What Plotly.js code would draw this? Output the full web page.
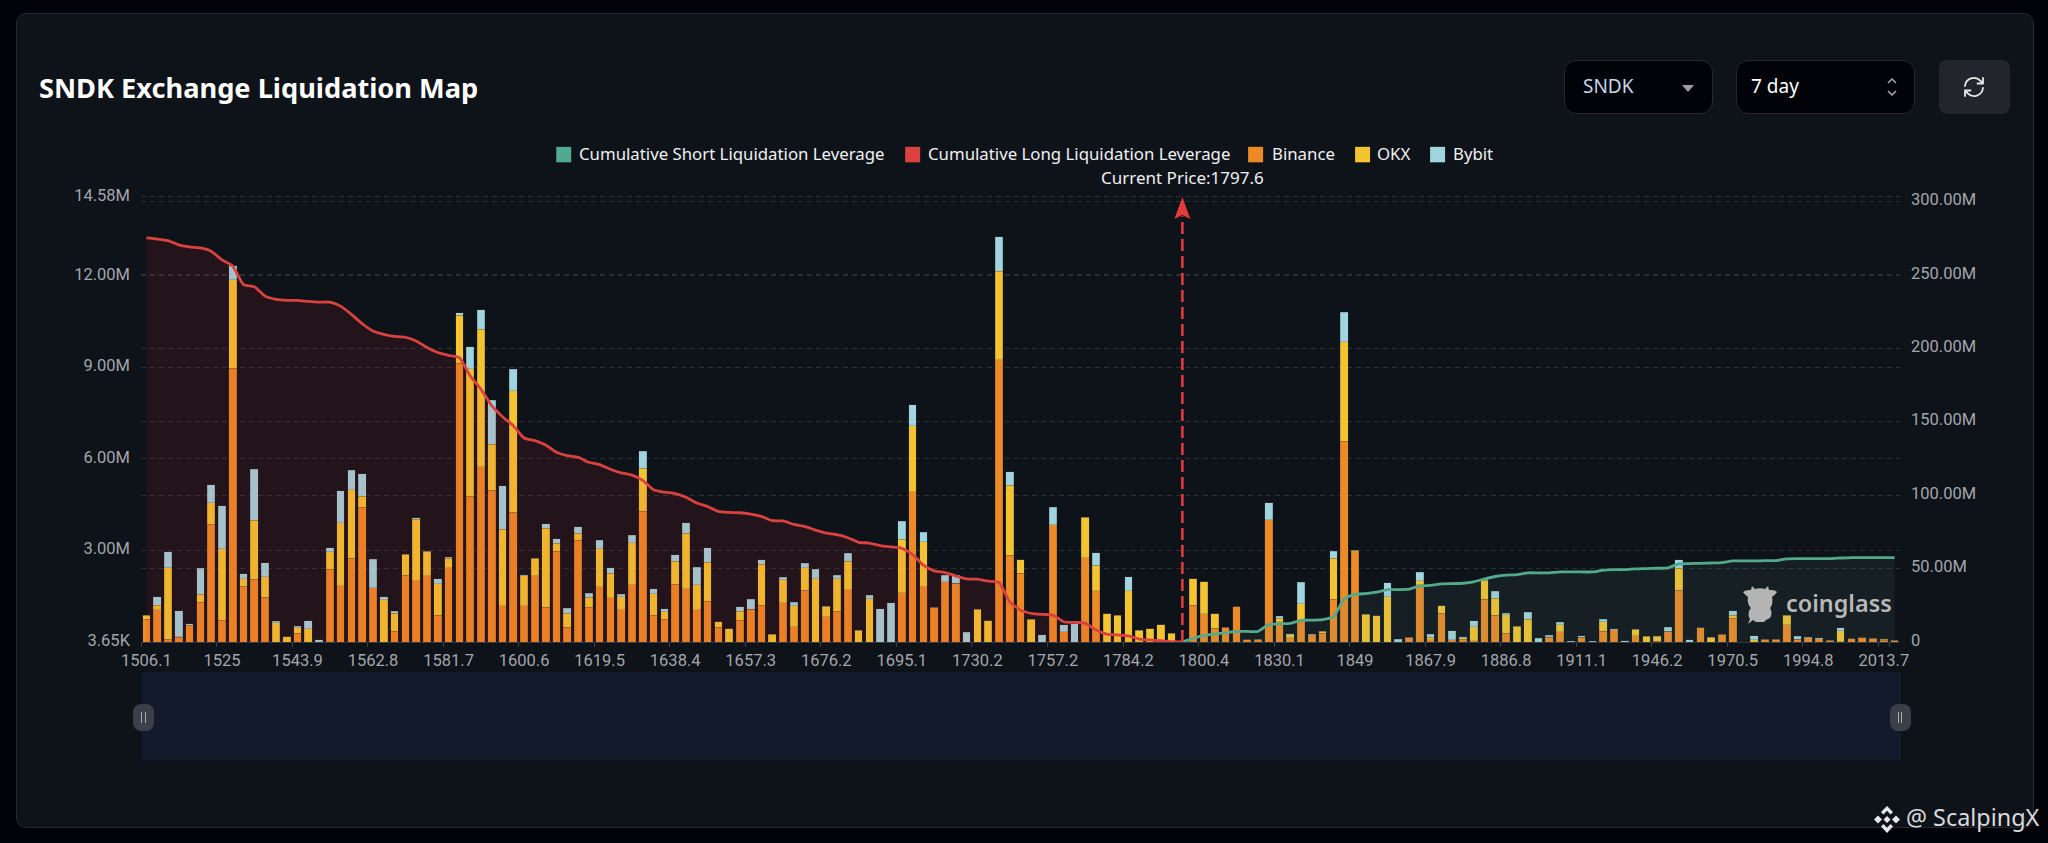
<!DOCTYPE html>
<html>
<head>
<meta charset="utf-8">
<script src="https://cdn.plot.ly/plotly-3.0.1.min.js"></script>
<style>
html,body{margin:0;padding:0;width:2048px;height:843px;background:#020308;overflow:hidden;font-family:"Noto Sans",sans-serif}
.abs{position:absolute;box-sizing:border-box}
#card{left:16px;top:13px;width:2018px;height:815px;background:#0e1219;border:1px solid #26292f;border-radius:10px}
#slider{left:142px;top:672px;width:1759px;height:88px;background:#121a2b}
.handle{width:21px;height:27px;top:704px;background:#3b4048;border-radius:8px}
.handle i{position:absolute;top:8px;width:1.4px;height:11px;background:#a9adb3}
#chart{left:0;top:0;width:2048px;height:843px}
.ctl{top:60px;height:54px;background:#020308;border:1px solid #25282e;border-radius:12px;color:#fff;font-size:19px;line-height:50px}
#wm{left:1873px;top:803px;color:#d8dadd;font-size:23.4px;line-height:28px;white-space:nowrap}
</style>
</head>
<body>
<div id="card" class="abs"></div>
<div id="slider" class="abs"></div>
<div id="chart" class="abs"></div>
<div class="abs handle" style="left:133px"><i style="left:8px"></i><i style="left:11.5px"></i></div>
<div class="abs handle" style="left:1889.5px"><i style="left:8px"></i><i style="left:11.5px"></i></div>

<div class="abs ctl" style="left:1564px;width:149px;padding-left:18px;color:#c6d6e8">SNDK
  <svg class="abs" style="left:117px;top:24px" width="12" height="7"><path d="M0 0H12L6 7Z" fill="#9a9da2"/></svg></div>
<div class="abs ctl" style="left:1736px;width:179px;padding-left:14px">7 day
  <svg class="abs" style="left:149px;top:15px" width="12" height="22" fill="none" stroke="#a8abb0" stroke-width="1.5"><path d="M2 7L6 3L10 7M2 15L6 19L10 15"/></svg></div>
<div class="abs" style="left:1939px;top:60px;width:71px;height:54px;background:#22262c;border-radius:8px">
  <svg class="abs" style="left:23px;top:15px" width="24" height="24" viewBox="0 0 24 24" fill="none" stroke="#e6e8ea" stroke-width="1.8" stroke-linecap="round" stroke-linejoin="round">
    <path d="M3 11a9 9 0 0 1 15.5-5.2L21 8.5M21 3v5.5h-5.5"/><path d="M21 13a9 9 0 0 1-15.5 5.2L3 15.5M3 21v-5.5h5.5"/></svg></div>

<svg class="abs" style="left:1742px;top:584px" width="36" height="40" viewBox="0 0 36 40">
  <path fill="#b4b4b4" d="M1 8 C4 6 7 6 9 6 L10 2 L13 5 C16 4 20 4 23 5 L26 2 L27 6 C30 6 33 6 35 8 C33 11 31 12 30 13 C31 18 30 22 28 24 C30 27 30 31 28 34 L24 36 L22 38 L14 38 L11 36 L6 40 L8 35 C6 32 6 27 9 24 C7 22 5 18 6 13 C5 12 3 11 1 8Z"/></svg>

<div id="wm" class="abs">
  <svg style="vertical-align:-7px" width="28" height="27" viewBox="0 0 28 27" fill="#e8e8e8">
    <path d="M14 0L20 6L17.6 8.4L14 4.8L10.4 8.4L8 6Z M5 9.5L9 13.5L5 17.5L1 13.5Z M23 9.5L27 13.5L23 17.5L19 13.5Z M14 10L17.5 13.5L14 17L10.5 13.5Z M8 20.5L10.4 18.1L14 21.7L17.6 18.1L20 20.5L14 27Z"/></svg><span style="margin-left:5px">@ ScalpingX</span></div>

<script>
// price level of every bar on the category axis
const categories = [
1506.1,1508.8,1511.5,1514.2,1516.9,1519.6,1522.3,1525,1527.7,1530.4,
1533.1,1535.8,1538.5,1541.2,1543.9,1546.6,1549.3,1552,1554.7,1557.4,
1560.1,1562.8,1565.5,1568.2,1570.9,1573.6,1576.3,1579,1581.7,1584.4,
1587.1,1589.8,1592.5,1595.2,1597.9,1600.6,1603.3,1606,1608.7,1611.4,
1614.1,1616.8,1619.5,1622.2,1624.9,1627.6,1630.3,1633,1635.7,1638.4,
1641.1,1643.8,1646.5,1649.2,1651.9,1654.6,1657.3,1660,1662.7,1665.4,
1668.1,1670.8,1673.5,1676.2,1678.9,1681.6,1684.3,1687,1689.7,1692.4,
1695.1,1697.8,1700.5,1703.2,1708.6,1714,1722.1,1730.2,1732.9,1735.6,
1738.3,1743.7,1746.4,1751.8,1757.2,1759.9,1762.6,1768,1773.4,1776.1,
1781.5,1784.2,1786.9,1789.6,1792.3,1795,1797.6,1797.7,1800.4,1803.1,
1808.5,1811.2,1816.6,1819.3,1824.7,1830.1,1832.8,1835.5,1838.2,1840.9,
1843.6,1846.3,1849,1851.7,1854.4,1857.1,1859.8,1862.5,1865.2,1867.9,
1870.6,1873.3,1876,1878.7,1881.4,1884.1,1886.8,1889.5,1892.2,1897.6,
1900.3,1903,1908.4,1911.1,1913.8,1919.2,1924.6,1930,1935.4,1940.8,
1946.2,1948.9,1951.6,1957,1959.7,1962.4,1967.8,1970.5,1973.2,1978.6,
1981.3,1984,1989.4,1992.1,1994.8,1997.5,2000.2,2002.9,2005.6,2008.3,
2011,2013.7,2016.4];

// liquidation leverage per price level, in millions
const binance = [
.74,1.05,.09,.15,.53,1.31,3.86,.72,8.97,1.83,
2.05,1.46,0,0,.28,0,0,2.38,1.84,2.75,
4.42,1.77,0,.36,2.18,2.0,2.17,.88,2.43,9.14,
4.78,5.74,4.98,1.18,4.25,1.18,2.17,1.14,2.97,.48,
3.34,1.14,1.81,1.45,1.06,1.87,4.29,.88,.75,1.89,
1.74,1.05,1.33,.49,0,.72,1.07,1.20,0,1.28,
.50,1.69,0,.82,1.0,1.72,0,0,0,0,
1.62,4.92,1.81,1.14,1.98,1.92,0,0,0,9.24,
2.84,2.26,0,0,3.84,.34,0,2.76,1.68,0,
0,0,0,0,0,0,0,1.20,.92,.45,
.48,1.16,.07,.09,4.0,.67,.14,.67,.23,.28,
1.40,6.57,2.96,0,0,0,0,.15,1.87,.07,
.94,.07,.09,.04,1.40,.88,.28,0,0,0,
.16,.34,0,.15,0,.36,.40,0,.20,0,
.02,.36,1.69,0,.46,0,.25,.78,0,0,
.09,.09,.56,.09,.14,.10,.05,.01,.11,.14,
.13,.05,.05];
const okx = [
.13,.16,2.35,.03,.02,.26,.71,2.34,2.90,.24,
1.94,.68,.63,.17,.19,.43,0,.58,2.07,2.24,
.35,0,1.38,.58,.69,2.02,.81,1.03,.32,1.57,
4.17,4.50,1.50,2.52,3.98,.99,.58,2.58,.26,.46,
.22,.33,1.25,.80,.43,1.38,1.40,.70,.24,.75,
1.83,.82,1.29,.17,.43,.28,0,1.34,.26,.76,
.69,.74,2.07,.35,1.07,.93,.39,1.42,0,0,
1.74,2.16,1.47,0,0,0,0,1.07,.69,2.90,
2.29,.44,.75,0,0,0,0,1.33,.84,.92,
.87,1.68,.38,.44,.56,.28,0,.87,1.06,.48,
0,0,0,0,0,.11,.10,.59,0,.08,
1.34,3.26,.05,.91,.86,1.48,0,0,.14,.09,
.24,0,.05,.46,.63,.55,.62,.52,.74,0,
.02,.23,0,0,0,.31,0,0,.21,.19,
.17,0,.72,0,0,.15,0,.10,0,.07,
0,0,.31,0,0,0,0,.36,0,0,
0,.04,0];
const bybit = [
.01,.28,.52,.85,.04,.84,.59,1.40,.45,.17,
1.67,.45,.05,0,.04,.27,.08,.12,1.04,.63,
.75,.94,.11,.07,0,.05,0,.16,.03,.08,
.72,.65,1.44,1.42,.70,.04,0,.15,.15,.17,
.22,.13,.27,.19,.07,.24,.56,.16,.10,.22,
.33,.58,.47,0,0,.16,.33,.16,0,.08,
.11,.15,.31,0,.11,.25,0,.11,1.09,1.28,
.60,.70,.31,0,.21,.27,.32,0,0,1.14,
.44,0,0,.23,.57,.23,.59,0,.41,0,
0,.45,0,0,0,0,0,0,0,0,
0,0,0,0,.57,.06,.03,.69,.02,0,
.24,.97,0,0,0,.46,.09,0,.28,.10,
0,.30,.04,.20,.02,.23,.05,0,.23,.12,
.04,.08,.02,.05,.02,.07,.04,.04,0,0,
.02,.12,.28,.07,0,0,0,.15,0,.13,
0,0,0,.10,.02,.04,0,.09,0,0,
0,.02,0];

// cumulative leverage, in millions: long runs from the first level to the current price
const cumulativeLong = [
275.1,274.4,273.3,270.4,269,268.3,266.1,260.2,255.9,243.4,
241.9,235.5,233.3,232.6,232.6,231.9,231.4,231.4,228.7,223.1,
216.7,211.8,209.5,208.1,207.5,205,200.5,197.1,195.2,193.7,
181.2,172.2,160.9,153.4,147.3,138.9,137.1,134.2,129.2,126.9,
125.8,122.4,120.8,117.6,115.2,113.6,110,103.6,102,101.1,
98.6,94.6,92.3,88.9,88.2,88,87.1,85.5,82.6,82.4,
80.1,78.7,76.2,74.2,73.1,71,67.9,67.4,65.6,64.7,
63.8,59.7,52.3,48.4,47.3,45,43,42.8,41.4,40.5,
27.4,21.7,19.5,18.8,18.3,13.8,13.3,12.9,8.1,5.4,
4.8,4.1,2,1.4,.9,.2,0];
// short runs from the current price to the last level
const cumulativeShort = [
0,2.5,4.5,5.4,6.3,7.2,7.2,7.2,11.8,12.4,
12.7,14.7,14.9,15.2,17.2,29.4,32.4,33,33.9,35.7,
35.7,36,38.2,38.5,39.6,39.8,40,41,43,44.6,
45.5,45.9,47.1,47.1,47.1,47.7,47.7,47.7,47.7,48.9,
49.3,49.3,49.8,50,50.2,50.5,53.2,53.4,53.6,53.8,
54.1,55.2,55.2,55.2,55.4,55.4,56.6,56.8,56.8,56.8,
56.8,57.2,57.5,57.5,57.5,57.5,57.5];

const xTickLabels = [1506.1,1525,1543.9,1562.8,1581.7,1600.6,1619.5,1638.4,1657.3,1676.2,1695.1,1730.2,
  1757.2,1784.2,1800.4,1830.1,1849,1867.9,1886.8,1911.1,1946.2,1970.5,1994.8,2013.7];
const leftTickValues = [.00365,3,6,9,12,14.58];
const leftTickLabels = ['3.65K','3.00M','6.00M','9.00M','12.00M','14.58M'];
const rightTickValues = [0,50,100,150,200,250,300];
const rightTickLabels = ['0','50.00M','100.00M','150.00M','200.00M','250.00M','300.00M'];
const currentPrice = 1797.6;

const W=2048,H=843,L=140.7,R=1900,T=194.7,B=642;
const px=v=>(v-L)/(R-L), py=v=>(B-v)/(B-T);
const colShort='#52a98e',colLong='#d9423f',colBin='#ed8a26',colOkx='#f4c430',colByb='#a0d4de';
const tickFont={family:'Roboto, sans-serif',size:16.5,color:'#a3a6ab'};
const barLine={width:.5,color:'rgba(70,70,70,.5)'};

const traces=[
 {type:'bar',name:'Binance',x:categories,y:binance,marker:{color:colBin,line:barLine}},
 {type:'bar',name:'OKX',x:categories,y:okx,marker:{color:colOkx,line:barLine}},
 {type:'bar',name:'Bybit',x:categories,y:bybit,marker:{color:colByb,line:barLine}},
 {type:'scatter',mode:'lines',name:'Cumulative Short Liquidation Leverage',x:categories.slice(96),y:cumulativeShort,yaxis:'y2',
  line:{color:colShort,width:2.8,shape:'spline',smoothing:.6},fill:'tozeroy',fillcolor:'rgba(100,150,130,.1)'},
 {type:'scatter',mode:'lines',name:'Cumulative Long Liquidation Leverage',x:categories.slice(0,97),y:cumulativeLong,yaxis:'y2',
  line:{color:colLong,width:2.8,shape:'spline',smoothing:.6},fill:'tozeroy',fillcolor:'rgba(214,38,36,.1)'}
];

const legendItems=[
 {name:'Cumulative Short Liquidation Leverage',color:colShort,sw:556,tx:577},
 {name:'Cumulative Long Liquidation Leverage',color:colLong,sw:905,tx:926},
 {name:'Binance',color:colBin,sw:1248,tx:1270},
 {name:'OKX',color:colOkx,sw:1355,tx:1375},
 {name:'Bybit',color:colByb,sw:1430,tx:1451}
];
const currentIndex=categories.indexOf(currentPrice);
const shapes=legendItems.map(i=>({type:'rect',xref:'paper',yref:'paper',x0:px(i.sw),x1:px(i.sw+15),y0:py(162),y1:py(146.5),fillcolor:i.color,line:{width:0},layer:'above'}));
shapes.push({type:'line',xref:'x',yref:'paper',x0:currentIndex,x1:currentIndex,y0:0,y1:py(216),line:{color:'#e23b3b',width:2.6,dash:'12px,5px'},layer:'above'});
shapes.push({type:'path',xref:'x',yref:'y',xsizemode:'pixel',ysizemode:'pixel',xanchor:currentIndex,yanchor:14.58,
  path:'M 0 0 L 8 -22 L 0 -18 L -8 -22 Z',fillcolor:'#e23b3b',line:{width:0},layer:'above'});

const annotations=legendItems.map(i=>({xref:'paper',yref:'paper',x:px(i.tx),y:py(153.5),xanchor:'left',yanchor:'middle',showarrow:false,text:i.name,
  font:{family:'Noto Sans',size:16.8,color:'#f0f1f2'}}));
annotations.push({xref:'paper',yref:'paper',x:px(1182),y:py(177.5),xanchor:'center',yanchor:'middle',showarrow:false,text:'Current Price:'+currentPrice,
  font:{family:'Noto Sans',size:17,color:'#f0f1f2'}});
annotations.push({xref:'paper',yref:'paper',x:px(1784),y:py(603),xanchor:'left',yanchor:'middle',showarrow:false,text:'coinglass',
  font:{family:'Noto Sans',size:23.4,weight:600,color:'#b8b8b8'}});

const layout={
 width:W,height:H,paper_bgcolor:'rgba(0,0,0,0)',plot_bgcolor:'rgba(0,0,0,0)',
 margin:{l:L,r:W-R,t:T,b:H-B,pad:0},barmode:'stack',bargap:.29,showlegend:false,
 title:{text:'SNDK Exchange Liquidation Map',x:39/W,xanchor:'left',xref:'container',y:1-88/H,yanchor:'middle',yref:'container',font:{family:'Noto Sans',size:27.2,weight:700,color:'#ffffff'}},
 xaxis:{type:'category',categoryorder:'array',categoryarray:categories,range:[-.5,162.5],tickmode:'array',tickvals:xTickLabels,ticktext:xTickLabels.map(String),
   tickson:'boundaries',ticks:'outside',ticklen:4,tickcolor:'#3a3e45',showgrid:false,showline:true,linecolor:'#33373e',tickangle:0,tickfont:tickFont,zeroline:false,ticklabelstandoff:3},
 yaxis:{range:[0,14.645],tickmode:'array',tickvals:leftTickValues,ticktext:leftTickLabels,tickfont:tickFont,showgrid:true,gridcolor:'#2a2e35',griddash:'5px,4px',gridwidth:1,zeroline:false,showline:false,ticks:'',ticklabelstandoff:10,ticklabelshift:-2},
 yaxis2:{overlaying:'y',side:'right',range:[0,304.36],tickmode:'array',tickvals:rightTickValues,ticktext:rightTickLabels,tickfont:tickFont,showgrid:true,griddash:'5px,4px',gridcolor:'#2a2e35',gridwidth:1,zeroline:false,showline:false,ticks:'',ticklabelstandoff:10,ticklabelshift:-2},
 shapes,annotations
};
Plotly.newPlot('chart',traces,layout,{displayModeBar:false,staticPlot:true});
</script>
</body>
</html>
